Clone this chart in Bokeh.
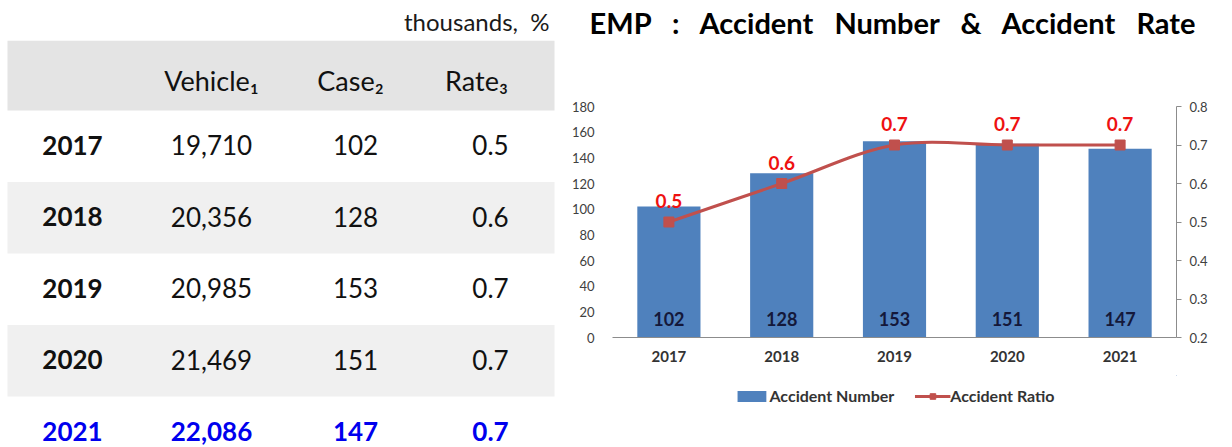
from bokeh.plotting import figure
from bokeh.layouts import row, column
from bokeh.models import Range1d, LinearAxis, Legend, LegendItem, FixedTicker
from bokeh.core.properties import value
from bokeh.embed import file_html
from bokeh.resources import INLINE

# ---------------- data ----------------
years = ["2017", "2018", "2019", "2020", "2021"]
vehicles = ["19,710", "20,356", "20,985", "21,469", "22,086"]
cases = [102, 128, 153, 151, 147]
rates = [0.5, 0.6, 0.7, 0.7, 0.7]
headers = ["Vehicle\u2081", "Case\u2082", "Rate\u2083"]
unit_note = "thousands,\u00a0 %"
title_text = "EMP\u00a0\u00a0 :\u00a0\u00a0 Accident\u00a0\u00a0 Number\u00a0\u00a0 &\u00a0\u00a0 Accident\u00a0\u00a0 Rate"
bar_tick_values = [0, 20, 40, 60, 80, 100, 120, 140, 160, 180]
rate_tick_values = [0.2, 0.3, 0.4, 0.5, 0.6, 0.7, 0.8]
legend_labels = ["Accident Number", "Accident Ratio"]

FONT = "Lato"
BAR_COLOR = "#4F81BD"
LINE_COLOR = "#C0504D"
n = len(years)
xs = list(range(n))


def blank(width, height, xr, yr):
    f = figure(width=width, height=height, x_range=xr, y_range=yr,
               x_axis_type=None, y_axis_type=None, toolbar_location=None,
               output_backend="svg", min_border=0, outline_line_color=None)
    f.grid.visible = False
    return f


# ---------------- top strip: unit note + title (page-pixel coordinates) ----------------
top = blank(1232, 40, Range1d(0, 1232), Range1d(40, 0))
top.text(x=[549], y=[21], text=[unit_note], text_align="right", text_baseline="middle",
         text_font=value(FONT), text_font_size="24px", text_color="#1a1a1a")
top.text(x=[893], y=[22], text=[title_text], text_align="center", text_baseline="middle",
         text_font=value(FONT), text_font_style="bold", text_font_size="29px",
         text_color="#000000")

# ---------------- table ----------------
tab = blank(563, 407, Range1d(0, 563), Range1d(447, 40))
band_left, band_right = 7, 554
header_top, header_bot = 40, 110
row_h = 71.5
tab.quad(left=band_left, right=band_right, top=header_top, bottom=header_bot,
         fill_color="#e4e4e4", line_color=None)
band_idx = [i for i in range(n) if i % 2 == 1]
tab.quad(left=band_left, right=band_right,
         top=[header_bot + row_h * i for i in band_idx],
         bottom=[header_bot + row_h * (i + 1) for i in band_idx],
         fill_color="#f0f0f0", line_color=None)

tab.text(x=[211, 350, 476], y=[80] * len(headers), text=headers, text_align="center",
         text_baseline="middle", text_font=value(FONT), text_font_size="27px",
         text_color="#111111")

row_y = [header_bot + row_h * (i + 0.5) - 1 for i in range(n)]
colors = ["#111111"] * (n - 1) + ["#0000ee"]
styles = ["normal"] * (n - 1) + ["bold"]
tab.text(x=[72] * n, y=row_y, text=years, text_align="center", text_baseline="middle",
         text_font=value(FONT), text_font_style="bold", text_font_size="26px",
         text_color=colors)
for cx, vals in [(211, vehicles), (355, [str(c) for c in cases]),
                 (490, ["%.1f" % r for r in rates])]:
    tab.text(x=[cx] * n, y=row_y, text=vals, text_align="center", text_baseline="middle",
             text_font=value(FONT), text_font_style=styles, text_font_size="26px",
             text_color=colors)

# ---------------- chart ----------------
chart = figure(width=669, height=335, x_range=Range1d(-0.5, n - 0.5),
               y_range=Range1d(0, 180), toolbar_location=None, output_backend="svg",
               min_border_left=49, min_border_right=56, min_border_top=66,
               min_border_bottom=38, outline_line_color=None)
chart.grid.visible = False
chart.extra_y_ranges = {"rate": Range1d(0.2, 0.8)}

chart.vbar(x=xs, top=cases, bottom=0, width=0.56, fill_color=BAR_COLOR, line_color=None)

# smoothed (Excel-style) line through the rate points, drawn as Bezier segments
cx0, cy0, cx1, cy1 = [], [], [], []
for i in range(n - 1):
    pm, pp = max(i - 1, 0), min(i + 2, n - 1)
    cx0.append(xs[i] + (xs[i + 1] - xs[pm]) / 6.0)
    cy0.append(rates[i] + (rates[i + 1] - rates[pm]) / 6.0)
    cx1.append(xs[i + 1] - (xs[pp] - xs[i]) / 6.0)
    cy1.append(rates[i + 1] - (rates[pp] - rates[i]) / 6.0)
chart.bezier(x0=xs[:-1], y0=rates[:-1], x1=xs[1:], y1=rates[1:],
             cx0=cx0, cy0=cy0, cx1=cx1, cy1=cy1,
             line_color=LINE_COLOR, line_width=3, y_range_name="rate")
chart.scatter(x=xs, y=rates, marker="square", size=10, fill_color=LINE_COLOR,
              line_color=LINE_COLOR, y_range_name="rate")

chart.text(x=xs, y=0, text=[str(c) for c in cases], y_offset=-19, text_align="center",
           text_baseline="middle", text_font=value(FONT), text_font_style="bold",
           text_font_size="18px", text_color="#14183a")
chart.text(x=xs, y=rates, text=["%.1f" % r for r in rates], y_offset=-21,
           y_range_name="rate", text_align="center", text_baseline="middle",
           text_font=value(FONT), text_font_style="bold", text_font_size="19px",
           text_color="#ee1111")

ya = chart.yaxis[0]
ya.ticker = FixedTicker(ticks=bar_tick_values)
ya.axis_line_color = None
ya.major_tick_line_color = None
ya.minor_tick_line_color = None
ya.major_tick_out = 0
ya.major_label_standoff = 18
ya.major_label_text_font = FONT
ya.major_label_text_font_size = "13px"
ya.major_label_text_color = "#404040"

ra = LinearAxis(y_range_name="rate", ticker=FixedTicker(ticks=rate_tick_values))
ra.axis_line_color = "#8c8c8c"
ra.major_tick_line_color = "#8c8c8c"
ra.major_tick_in = 0
ra.major_tick_out = 5
ra.minor_tick_line_color = None
ra.major_label_standoff = 8
ra.major_label_text_font = FONT
ra.major_label_text_font_size = "13px"
ra.major_label_text_color = "#404040"
chart.add_layout(ra, "right")

xa = chart.xaxis[0]
xa.ticker = FixedTicker(ticks=xs)
xa.major_label_overrides = {i: y for i, y in zip(xs, years)}
xa.axis_line_color = "#8c8c8c"
xa.major_tick_line_color = None
xa.minor_tick_line_color = None
xa.major_tick_out = 0
xa.major_label_standoff = 13
xa.major_label_text_font = FONT
xa.major_label_text_font_style = "bold"
xa.major_label_text_font_size = "15px"
xa.major_label_text_color = "#333333"

# ---------------- legend strip under the chart ----------------
# the legend's own renderers draw the same series, but outside this strip's visible ranges
leg = blank(669, 72, Range1d(-100, -99), Range1d(-100, -99))
leg_bar = leg.vbar(x=xs, top=cases, width=0.56, fill_color=BAR_COLOR, line_color=None)
leg_line = leg.line(x=xs, y=rates, line_color=LINE_COLOR, line_width=3)
leg_mark = leg.scatter(x=xs, y=rates, marker="square", size=10, fill_color=LINE_COLOR,
                       line_color=LINE_COLOR)
legend = Legend(items=[LegendItem(label=legend_labels[0], renderers=[leg_bar]),
                       LegendItem(label=legend_labels[1], renderers=[leg_line, leg_mark])],
                orientation="horizontal", location="top_center")
legend.glyph_width = 36
legend.glyph_height = 14
legend.label_standoff = 0
legend.spacing = 20
legend.padding = 0
legend.margin = 11
legend.label_height = 16
legend.border_line_color = None
legend.background_fill_alpha = 0
legend.label_text_font = FONT
legend.label_text_font_style = "bold"
legend.label_text_font_size = "16px"
legend.label_text_color = "#333333"
leg.add_layout(legend)

layout = column(top, row(tab, column(chart, leg)))
open("out.html", "w").write(file_html(layout, INLINE))
